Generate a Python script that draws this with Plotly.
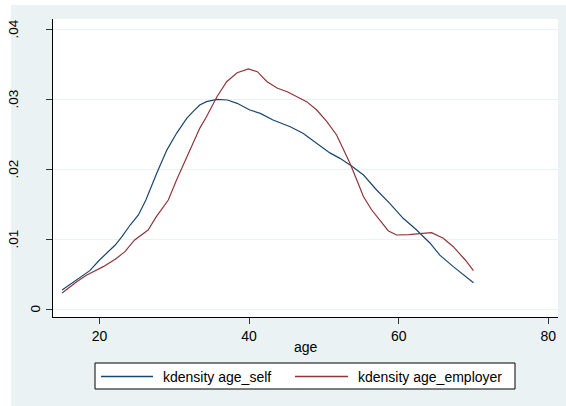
import plotly.graph_objects as go

# ---- data ----
self_age = [15, 17, 18.7, 20, 21.4, 22.1, 23, 24.1, 25.2, 26.2, 27.65, 29, 30.3, 31.66,
            32.5, 33.4, 34.3, 35.7, 37.1, 38.4, 40.1, 41.5, 43.2, 45.5, 47.2, 49, 50.8,
            52.15, 53.7, 55.3, 57.05, 58.8, 60.6, 62.4, 64.2, 65.5, 67.3, 70]
self_dens = [.00271, .00414, .00548, .0070, .00843, .00914, .01033, .0120, .01343, .01557,
             .01939, .0227, .0251, .02724, .02819, .02914, .02962, .02995, .02986, .02938,
             .02843, .02795, .0270, .02604, .0251, .02367, .0223, .02152, .02043, .01914,
             .0170, .0151, .01296, .01129, .0094, .0077, .00605, .00376]

emp_age = [15, 16.95, 18.3, 20.5, 22.1, 23.4, 24.7, 26.5, 27.6, 29.2, 30.3, 31.66, 32.5,
           33.4, 34.3, 35.7, 37, 38.4, 39.9, 41.1, 42.4, 43.8, 45.1, 46.4, 47.7, 49.05,
           50.4, 51.7, 53.5, 54.4, 55.3, 56.4, 57.5, 58.6, 59.7, 61.4, 63.2, 64.4, 65.96,
           67.3, 68.9, 70]
emp_dens = [.00229, .0039, .00486, .00605, .0071, .00819, .00986, .01129, .0132, .01557,
            .01843, .02176, .02367, .02581, .02747, .03033, .03247, .03376, .03429, .0339,
            .03247, .03153, .03104, .03033, .02962, .02843, .02676, .02486, .0208, .01843,
            .01604, .01414, .0127, .01119, .01057, .01062, .01081, .0109, .0101, .0089,
            .0070, .00548]

x_ticks = [20, 40, 60, 80]
y_ticks = [0, 0.01, 0.02, 0.03, 0.04]
y_tick_text = ["0", ".01", ".02", ".03", ".04"]
series_names = ["kdensity age_self", "kdensity age_employer"]
x_title = "age"

# ---- styling ----
BLUE = "#1A476F"
RED = "#90353B"
BG = "#EAF2F3"
FONT = "Arial, Liberation Sans, sans-serif"
W, H = 566, 406
L, R, T, B = 53, 558, 19, 317  # plot area in pixels


def px(xp):
    return (xp - L) / (R - L)


def py(yp):
    return (B - yp) / (B - T)


fig = go.Figure()
fig.add_trace(go.Scatter(x=self_age, y=self_dens, mode="lines", name=series_names[0],
                         line=dict(color=BLUE, width=1.2), showlegend=False))
fig.add_trace(go.Scatter(x=emp_age, y=emp_dens, mode="lines", name=series_names[1],
                         line=dict(color=RED, width=1.2), showlegend=False))

shapes = [
    # white strips outside the graph region
    dict(type="rect", xref="paper", yref="paper", x0=px(0), x1=px(11), y0=py(406), y1=py(0),
         fillcolor="white", line=dict(width=0), layer="below"),
    dict(type="rect", xref="paper", yref="paper", x0=px(0), x1=px(566), y0=py(5), y1=py(0),
         fillcolor="white", line=dict(width=0), layer="below"),
    # legend box
    dict(type="rect", xref="paper", yref="paper", x0=px(95), x1=px(515), y0=py(389), y1=py(363),
         fillcolor="white", line=dict(color="black", width=1)),
    dict(type="line", xref="paper", yref="paper", x0=px(101), x1=px(153), y0=py(376.5), y1=py(376.5),
         line=dict(color=BLUE, width=1.3)),
    dict(type="line", xref="paper", yref="paper", x0=px(295), x1=px(348), y0=py(376.5), y1=py(376.5),
         line=dict(color=RED, width=1.3)),
]

annotations = [
    dict(text=series_names[0], xref="paper", yref="paper", x=px(161), y=py(376.5),
         xanchor="left", yanchor="middle", showarrow=False, font=dict(size=14, color="black", family=FONT)),
    dict(text=series_names[1], xref="paper", yref="paper", x=px(356), y=py(376.5),
         xanchor="left", yanchor="middle", showarrow=False, font=dict(size=14, color="black", family=FONT)),
    dict(text=x_title, xref="paper", yref="paper", x=0.5, y=py(347),
         xanchor="center", yanchor="middle", showarrow=False, font=dict(size=14, color="black", family=FONT)),
]
for v, t in zip(y_ticks, y_tick_text):
    xc = 34.5 if t == "0" else 12.5
    annotations.append(dict(text=t, xref="paper", yref="y", x=px(xc), y=v, textangle=-90,
                            xanchor="center", yanchor="middle", showarrow=False,
                            font=dict(size=13.5, color="black", family=FONT)))

fig.update_layout(
    width=W, height=H,
    margin=dict(l=L, r=W - R, t=T, b=H - B, pad=0),
    paper_bgcolor=BG, plot_bgcolor="white",
    font=dict(family=FONT, size=14, color="black"),
    showlegend=False,
    shapes=shapes, annotations=annotations,
    xaxis=dict(range=[13.783, 81.30], tickmode="array", tickvals=x_ticks,
               ticks="outside", ticklen=6, tickcolor="#333", tickwidth=1,
               showline=True, linecolor="black", linewidth=1, showgrid=False, zeroline=False,
               tickfont=dict(size=14, color="black", family=FONT)),
    yaxis=dict(range=[-0.001143, 0.041429], tickmode="array", tickvals=y_ticks,
               ticks="outside", ticklen=6, tickcolor="#333", tickwidth=1, showticklabels=False,
               showline=True, linecolor="black", linewidth=1, showgrid=True,
               gridcolor=BG, gridwidth=1.2, zeroline=False),
)

fig.write_html("out.html", config={"displayModeBar": False},
               post_script="document.body.style.margin='0px';")
